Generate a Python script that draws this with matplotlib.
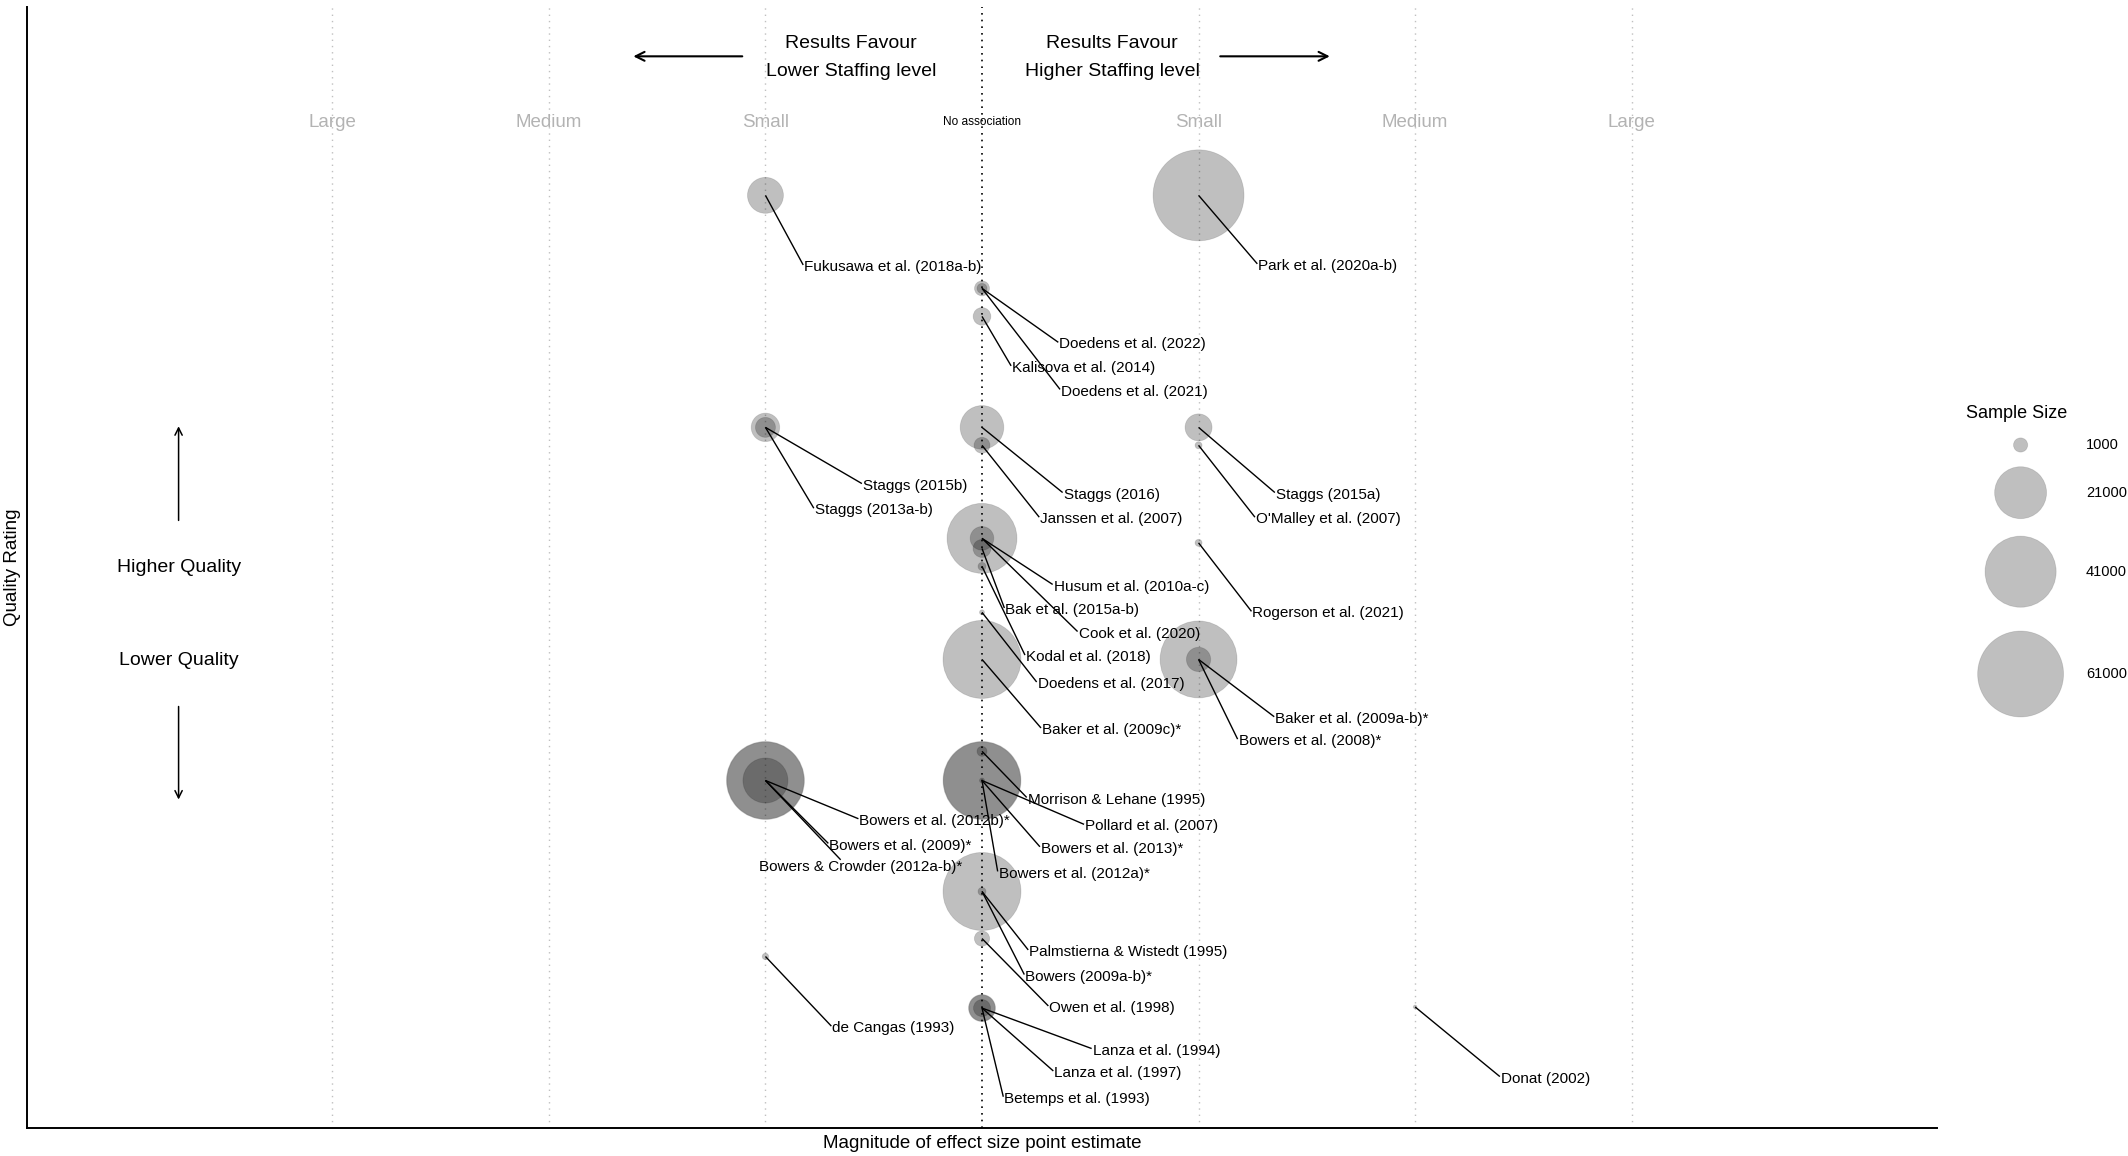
import matplotlib
matplotlib.use("Agg")
import matplotlib.pyplot as plt
import numpy as np

plt.rcParams['font.family'] = ['Liberation Sans', 'DejaVu Sans']

# one row per study
studies = [
    "Fukusawa et al. (2018a-b)", "Park et al. (2020a-b)", "Doedens et al. (2022)",
    "Doedens et al. (2021)", "Kalisova et al. (2014)", "Staggs (2015b)",
    "Staggs (2013a-b)", "Staggs (2016)", "Janssen et al. (2007)", "Staggs (2015a)",
    "O'Malley et al. (2007)", "Husum et al. (2010a-c)", "Cook et al. (2020)",
    "Bak et al. (2015a-b)", "Kodal et al. (2018)", "Rogerson et al. (2021)",
    "Doedens et al. (2017)", "Baker et al. (2009c)*", "Baker et al. (2009a-b)*",
    "Bowers et al. (2008)*", "Bowers et al. (2012b)*", "Bowers et al. (2009)*",
    "Bowers & Crowder (2012a-b)*", "Morrison & Lehane (1995)", "Pollard et al. (2007)",
    "Bowers et al. (2013)*", "Bowers et al. (2012a)*", "Palmstierna & Wistedt (1995)",
    "Bowers (2009a-b)*", "Owen et al. (1998)", "de Cangas (1993)",
    "Lanza et al. (1994)", "Lanza et al. (1997)", "Betemps et al. (1993)", "Donat (2002)",
]
effect = [-1, 1, 0, 0, 0, -1, -1, 0, 0, 1,
          1, 0, 0, 0, 0, 1, 0, 0, 1, 1,
          -1, -1, -1, 0, 0, 0, 0, 0, 0, 0,
          -1, 0, 0, 0, 2]
quality = [83.2, 83.2, 74.9, 74.9, 72.4, 62.5, 62.5, 62.5, 60.9, 62.5,
           60.9, 52.6, 52.6, 51.7, 50.1, 52.2, 46.0, 41.8, 41.8, 41.8,
           31.0, 31.0, 31.0, 33.6, 31.0, 31.0, 31.0, 21.1, 21.1, 16.9,
           15.3, 10.7, 10.7, 10.7, 10.8]
sample_size = [9400, 68700, 1150, 360, 1770, 5550, 2400, 14400, 1360, 4900,
               100, 39600, 3600, 1840, 170, 100, 15, 49800, 48400, 3830,
               49800, 48400, 15400, 360, 49800, 48400, 15, 49800, 170, 1210,
               70, 4900, 4480, 1600, 0]

effect_ticks = [-3, -2, -1, 1, 2, 3]
effect_names = ["Large", "Medium", "Small", "Small", "Medium", "Large"]
legend_sizes = [1000, 21000, 41000, 61000]

# where the repelled labels ended up (left edge, middle), data units
label_x = [-0.821, 1.276, 0.357, 0.365, 0.139, -0.550, -0.772, 0.377, 0.269, 1.357,
           1.265, 0.331, 0.446, 0.108, 0.203, 1.249, 0.257, 0.277, 1.354, 1.185,
           -0.566, -0.705, -1.028, 0.211, 0.476, 0.272, 0.077, 0.218, 0.200, 0.311,
           -0.691, 0.511, 0.334, 0.103, 2.396]
label_y = [76.8, 76.9, 69.9, 65.7, 67.8, 57.3, 55.1, 56.5, 54.3, 56.5,
           54.3, 48.3, 44.1, 46.2, 42.0, 45.9, 39.6, 35.5, 36.5, 34.5,
           27.4, 25.2, 23.3, 29.3, 26.9, 24.9, 22.7, 15.7, 13.5, 10.7,
           8.9, 6.9, 4.9, 2.6, 4.4]

W, H, DPI = 2128, 1156, 100


def marker_area(n):
    # bubble diameter in px grows with sqrt(sample size)
    d = 3.7 + 0.333 * np.sqrt(np.asarray(n, dtype=float))
    return (d * 72 / DPI) ** 2


fig = plt.figure(figsize=(W / DPI, H / DPI), dpi=DPI)
ax = fig.add_axes([27 / W, 28 / H, 1910 / W, 1121 / H])
ax.set_xlim(-4.41, 4.41)
ax.set_ylim(0, 100)

for x in effect_ticks:
    ax.axvline(x, color="#c0c0c0", lw=1.0, ls=(0, (1, 3.5)), zorder=0)
ax.axvline(0, color="black", lw=1.2, ls=(0, (1, 3)), zorder=0)

bubble = dict(facecolor=(0, 0, 0, 0.25), edgecolor=(0, 0, 0, 0.12), linewidths=0.6)
ax.scatter(effect, quality, s=marker_area(sample_size), zorder=2, **bubble)

# effect size band labels
for x, name in zip(effect_ticks, effect_names):
    ax.text(x, 89.7, name, ha="center", va="center", fontsize=13.5, color="#b3b3b3")
ax.text(0, 89.7, "No association", ha="center", va="center", fontsize=8.6)

# header
ax.text(-0.604, 96.76, "Results Favour", ha="center", va="center", fontsize=14)
ax.text(-0.604, 94.29, "Lower Staffing level", ha="center", va="center", fontsize=14)
ax.text(0.602, 96.76, "Results Favour", ha="center", va="center", fontsize=14)
ax.text(0.602, 94.29, "Higher Staffing level", ha="center", va="center", fontsize=14)
arr = dict(arrowstyle="->", lw=1.5, color="black", mutation_scale=16, shrinkA=0, shrinkB=0)
ax.annotate("", xy=(-1.61, 95.6), xytext=(-1.107, 95.6), arrowprops=arr)
ax.annotate("", xy=(1.606, 95.6), xytext=(1.1, 95.6), arrowprops=arr)

# quality direction
ax.text(-3.71, 50.0, "Higher Quality", ha="center", va="center", fontsize=14)
ax.text(-3.71, 41.7, "Lower Quality", ha="center", va="center", fontsize=14)
arr2 = dict(arrowstyle="->", lw=1.1, color="black", mutation_scale=13, shrinkA=0, shrinkB=0)
ax.annotate("", xy=(-3.71, 62.6), xytext=(-3.71, 54.2), arrowprops=arr2)
ax.annotate("", xy=(-3.71, 29.3), xytext=(-3.71, 37.6), arrowprops=arr2)

# study labels + leader segments
texts = []
for name, lx, ly in zip(studies, label_x, label_y):
    texts.append(ax.text(lx, ly, name, ha="left", va="center", fontsize=11, zorder=4))

fig.canvas.draw()
rend = fig.canvas.get_renderer()
inv = ax.transData.inverted()
for t, x, y in zip(texts, effect, quality):
    bb = t.get_window_extent(rend)
    px, py = ax.transData.transform((x, y))
    if px < bb.x0 or px > bb.x1:
        # point beside the label: join the side, near its middle
        ex = min(max(px, bb.x0 - 1), bb.x1)
        ey = min(max(py, bb.y0 + 0.35 * bb.height), bb.y1 - 0.35 * bb.height)
    else:
        # point above/below: join top or bottom edge, pulled to the middle
        ex = min(max(px, bb.x0 + 0.4 * bb.width), bb.x1 - 0.4 * bb.width)
        ey = min(max(py, bb.y0), bb.y1)
    qx, qy = inv.transform((ex, ey))
    ax.plot([x, qx], [y, qy], color="black", lw=1.0, zorder=3, solid_capstyle="butt")

for side in ["top", "right"]:
    ax.spines[side].set_visible(False)
for side in ["left", "bottom"]:
    ax.spines[side].set_linewidth(1.4)
ax.set_xticks([])
ax.set_yticks([])
ax.set_xlabel("Magnitude of effect size point estimate", fontsize=13.5, labelpad=5)
ax.set_ylabel("Quality Rating", fontsize=13.5, labelpad=4)

# legend for bubble size
leg_y = [445, 492.7, 571.7, 674]
fig.text(2017 / W, 1 - 413 / H, "Sample Size", ha="center", va="center", fontsize=13)
ax.scatter([2020.6 / W] * 4, [1 - y / H for y in leg_y], s=marker_area(legend_sizes),
           transform=fig.transFigure, clip_on=False, **bubble)
for n, y in zip(legend_sizes, leg_y):
    fig.text(2086 / W, 1 - y / H, str(n), ha="left", va="center", fontsize=10.5)

ax.set_xlim(-4.41, 4.41)
ax.set_ylim(0, 100)
fig.savefig("out.png", dpi=DPI)
